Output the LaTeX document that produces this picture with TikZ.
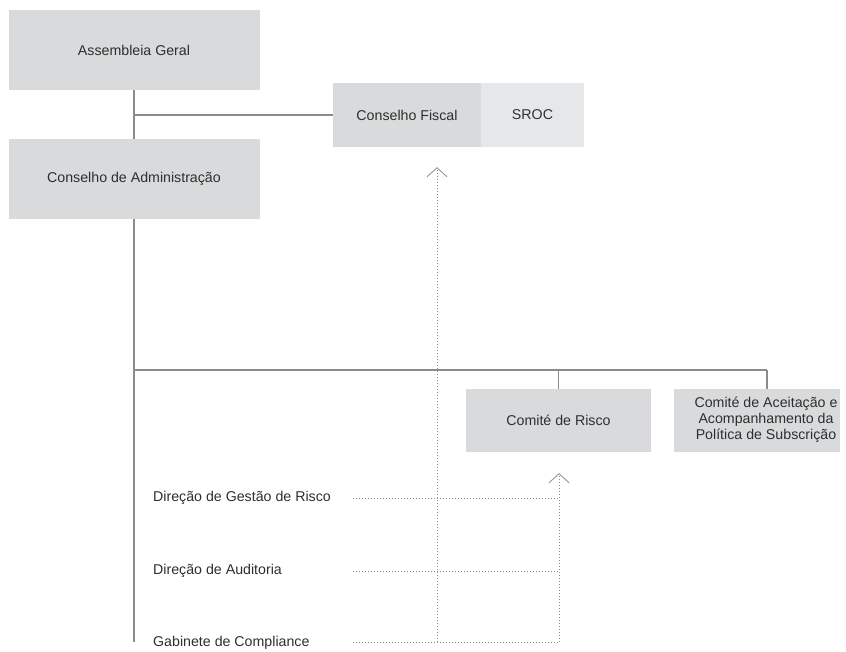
\documentclass[tikz,border=0pt]{standalone}
\usepackage{fontspec}
\setmainfont{Liberation Sans}
\usetikzlibrary{arrows.meta}

\definecolor{boxgray}{HTML}{D9DADB}
\definecolor{boxlight}{HTML}{E6E7E8}
\definecolor{linegray}{HTML}{8C8C8C}
\definecolor{txtgray}{HTML}{2E2E2E}

\tikzset{
  orgbox/.style={fill=boxgray, text=txtgray, inner sep=0pt, align=center,
    font=\fontsize{14.2}{16}\selectfont},
  lightbox/.style={orgbox, fill=boxlight},
  lbl/.style={anchor=west, text=txtgray, inner sep=0pt, font=\fontsize{14.2}{16}\selectfont},
  solidline/.style={draw=linegray, line width=1.1pt},
  dotline/.style={draw=linegray, line width=0.9pt, dash pattern=on 0.9pt off 2.1pt},
  uparrow/.style={dotline, -{Straight Barb[length=9pt,width=20pt,line width=0.8pt]}}
}

\begin{document}
\begin{tikzpicture}[x=1pt,y=-1pt]
    \useasboundingbox (0,0) rectangle (846,652);

    %BOXES
    \node[orgbox, minimum width=251pt, minimum height=80pt] (ag) at (134,50) {Assembleia Geral};
    \node[orgbox, minimum width=251pt, minimum height=80pt] (ca) at (134,179) {Conselho de Administração};
    \node[orgbox, minimum width=148pt, minimum height=64pt] (cf) at (407,115) {Conselho Fiscal};
    \node[lightbox, minimum width=103pt, minimum height=64pt] (sroc) at (532.5,115) {SROC};
    \node[orgbox, minimum width=185pt, minimum height=63pt] (cr) at (558.5,420.5) {Comité de Risco};
    \node[orgbox, minimum width=166pt, minimum height=63pt] (cap) at (757,420.5) {};
    \node[text=txtgray, align=center, inner sep=0pt, font=\fontsize{14.2}{16}\selectfont] (captxt) at (766,420)
        {Comité de Aceitação e\\Acompanhamento da\\Política de Subscrição};

    %LABELS
    \node[lbl] (dgr) at (153,498) {Direção de Gestão de Risco};
    \node[lbl] (dau) at (153,571) {Direção de Auditoria};
    \node[lbl] (gco) at (153,643) {Gabinete de Compliance};

    %COORDINATES
    \coordinate (fork) at (134,115);
    \coordinate (bus) at (134,370);
    \coordinate (busend) at (767,370);
    \coordinate (mainend) at (134,642);
    \coordinate (dstart) at (353,0);
    \coordinate (cfdot) at (437,642);
    \coordinate (crdot) at (559,642);

    %SOLID LINES
    \draw[solidline] (ag.south) -- (ca.north);
    \draw[solidline] (fork) -- (cf.west);
    \draw[solidline] (ca.south) -- (mainend);
    \draw[solidline] (bus) -- (busend);
    \draw[solidline] (cr.north |- bus) -- (cr.north);
    \draw[solidline] (busend) -- (busend |- cap.north);

    %DOTTED LINES
    \draw[dotline] (dstart |- dgr) -- (crdot |- dgr);
    \draw[dotline] (dstart |- dau) -- (crdot |- dau);
    \draw[dotline] (dstart |- cfdot) -- (cfdot);
    \draw[dotline] (cfdot) -- (crdot);
    \draw[uparrow, shorten >=20pt] (cfdot) -- (cfdot |- cf.south);
    \draw[uparrow, shorten >=21pt] (crdot) -- (crdot |- cr.south);
\end{tikzpicture}
\end{document}
